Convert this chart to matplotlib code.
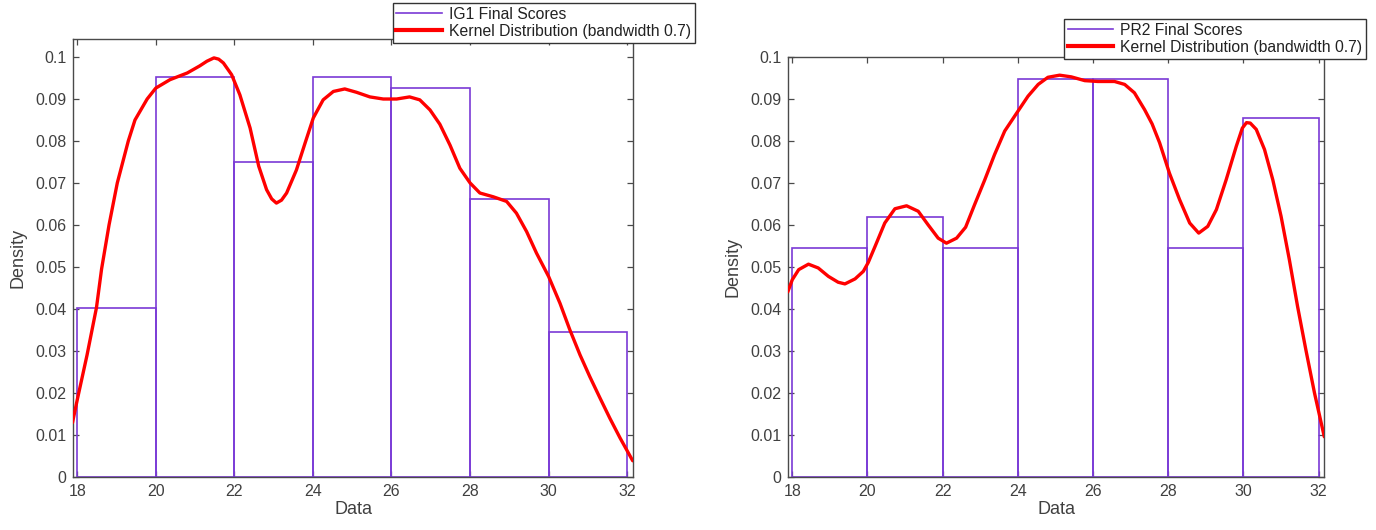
import matplotlib
matplotlib.use("Agg")
import matplotlib.pyplot as plt
from matplotlib.lines import Line2D

plt.rcParams['font.family'] = ['Liberation Sans', 'DejaVu Sans']

# ---------------- data ----------------
bin_edges = [18, 20, 22, 24, 26, 28, 30, 32]
ig1_density = [0.0403, 0.0953, 0.0751, 0.0953, 0.0926, 0.0662, 0.0345]
pr2_density = [0.0545, 0.0618, 0.0545, 0.0948, 0.0948, 0.0545, 0.0855]

ig1_kde_x = [17.88, 18.00, 18.25, 18.49, 18.62, 18.81, 19.02, 19.30, 19.47, 19.78,
             20.00, 20.36, 20.80, 21.12, 21.30, 21.48, 21.60, 21.72, 21.93, 22.14, 22.40, 22.62,
             22.82, 22.95, 23.07, 23.20, 23.33, 23.58, 23.80, 24.01, 24.26, 24.52, 24.81, 25.11,
             25.45, 25.79, 26.13, 26.46, 26.72, 26.98, 27.23, 27.49, 27.74, 28.00,
             28.25, 28.59, 28.93, 29.18, 29.44, 29.69, 30.00, 30.29, 30.54, 30.80,
             31.05, 31.31, 31.56, 31.82, 32.14]
ig1_kde_y = [0.0129, 0.0183, 0.0290, 0.0403, 0.0495, 0.0600, 0.0700, 0.0800, 0.0850, 0.0900,
             0.0926, 0.0946, 0.0962, 0.0979, 0.0990, 0.0998, 0.0995, 0.0986, 0.0958, 0.0910, 0.0831, 0.0740,
             0.0684, 0.0662, 0.0652, 0.0659, 0.0676, 0.0731, 0.0795, 0.0855, 0.0898, 0.0918, 0.0924, 0.0916,
             0.0905, 0.0900, 0.0900, 0.0905, 0.0898, 0.0874, 0.0840, 0.0790, 0.0735, 0.0700,
             0.0676, 0.0667, 0.0656, 0.0628, 0.0584, 0.0533, 0.0477, 0.0413, 0.0350, 0.0290,
             0.0238, 0.0187, 0.0139, 0.0092, 0.0038]

pr2_kde_x = [17.88, 18.00, 18.17, 18.43, 18.69, 18.96, 19.22, 19.40, 19.67, 19.89,
             20.02, 20.20, 20.46, 20.73, 21.04, 21.35, 21.61, 21.88, 22.10, 22.37,
             22.61, 22.85, 23.12, 23.38, 23.65, 24.00, 24.27, 24.54, 24.80, 25.11,
             25.42, 25.78, 26.13, 26.57, 26.84, 27.10, 27.37, 27.57, 27.77, 28.03,
             28.30, 28.57, 28.81, 29.05, 29.28, 29.54, 29.81, 29.97, 30.08, 30.18, 30.34,
             30.56, 30.78, 31.00, 31.22, 31.44, 31.66, 31.89, 32.15]
pr2_kde_y = [0.0440, 0.0469, 0.0493, 0.0506, 0.0497, 0.0477, 0.0463, 0.0459, 0.0471, 0.0489,
             0.0510, 0.0548, 0.0604, 0.0638, 0.0645, 0.0632, 0.0600, 0.0568, 0.0556, 0.0568,
             0.0594, 0.0648, 0.0707, 0.0767, 0.0823, 0.0870, 0.0906, 0.0934, 0.0951, 0.0956,
             0.0952, 0.0943, 0.0941, 0.0941, 0.0934, 0.0914, 0.0874, 0.0840, 0.0795, 0.0723,
             0.0660, 0.0604, 0.0580, 0.0596, 0.0636, 0.0707, 0.0787, 0.0830, 0.0843, 0.0842, 0.0827,
             0.0779, 0.0707, 0.0620, 0.0517, 0.0405, 0.0302, 0.0199, 0.0095]

y_ticks = [0, 0.01, 0.02, 0.03, 0.04, 0.05, 0.06, 0.07, 0.08, 0.09, 0.1]
y_tick_labels = ['0', '0.01', '0.02', '0.03', '0.04', '0.05', '0.06', '0.07', '0.08', '0.09', '0.1']
x_ticks = [18, 20, 22, 24, 26, 28, 30, 32]

hist_labels = ['IG1 Final Scores', 'PR2 Final Scores']
kde_label = 'Kernel Distribution (bandwidth 0.7)'

# ---------------- style ----------------
W, H = 1376, 530
fig = plt.figure(figsize=(W / 100, H / 100), dpi=100)
purple = '#7a3ad6'
axis_col = '#4a4a4a'
text_col = '#404040'

def px_axes(l, t, r, b):
    return [l / W, 1 - b / H, (r - l) / W, (b - t) / H]

ax1 = fig.add_axes(px_axes(73.3, 39.0, 632.7, 476.7))
ax2 = fig.add_axes(px_axes(788.3, 56.7, 1324.3, 476.7))

configs = [
    (ax1, ig1_density, ig1_kde_x, ig1_kde_y, hist_labels[0], (17.9, 32.14), (0, 0.1043),
     (695 / W, 1 - 3 / H)),
    (ax2, pr2_density, pr2_kde_x, pr2_kde_y, hist_labels[1], (17.894, 32.15), (0, 0.1),
     (1366 / W, 1 - 19 / H)),
]

for ax, dens, kx, ky, hlabel, xl, yl, anchor in configs:
    widths = [bin_edges[i + 1] - bin_edges[i] for i in range(len(dens))]
    ax.bar(bin_edges[:-1], dens, width=widths, align='edge', fill=False,
           edgecolor=purple, linewidth=1.2, zorder=2)
    ax.plot(kx, ky, color='#ff0000', linewidth=2.4, zorder=3,
            solid_capstyle='round', solid_joinstyle='round')
    ax.set_xlim(*xl)
    ax.set_ylim(*yl)
    ax.set_xticks(x_ticks)
    ax.set_yticks(y_ticks)
    ax.set_yticklabels(y_tick_labels)
    ax.tick_params(direction='in', length=4, width=0.9, colors=axis_col,
                   labelcolor=text_col, labelsize=11.5, top=True, right=True, pad=5)
    for s in ax.spines.values():
        s.set_color(axis_col)
        s.set_linewidth(1.0)
    ax.set_xlabel('Data', fontsize=13, color=text_col, labelpad=2)
    ax.set_ylabel('Density', fontsize=13, color=text_col, labelpad=6)
    handles = [Line2D([], [], color=purple, linewidth=1.2),
               Line2D([], [], color='#ff0000', linewidth=3)]
    leg = fig.legend(handles, [hlabel, kde_label], loc='upper right',
                     bbox_to_anchor=anchor, fontsize=11.3, frameon=True,
                     fancybox=False, framealpha=1, edgecolor='#333333',
                     handlelength=2.9, handletextpad=0.45, borderpad=0.25,
                     labelspacing=0.12, borderaxespad=0)
    leg.get_frame().set_linewidth(1.0)
    for t in leg.get_texts():
        t.set_color('#222222')

fig.savefig('out.png', dpi=100)
